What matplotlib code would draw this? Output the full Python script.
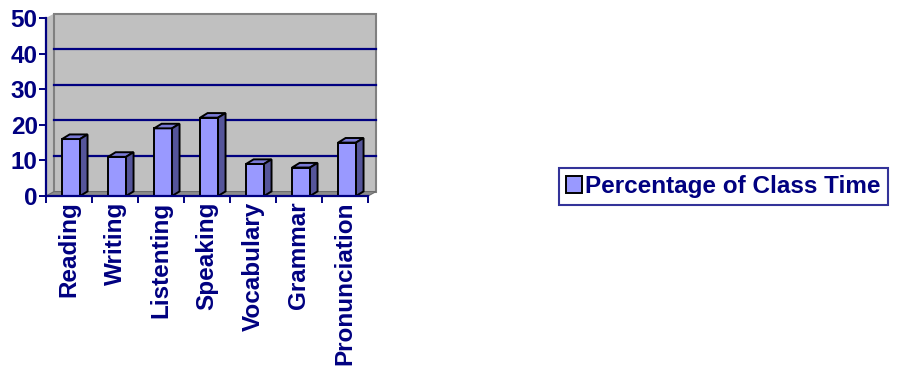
import numpy as np
import matplotlib
matplotlib.use('Agg')
import matplotlib.pyplot as plt
from matplotlib.patches import Polygon, Patch

categories = ['Reading', 'Writing', 'Listenting', 'Speaking', 'Vocabulary', 'Grammar', 'Pronunciation']
values = [16, 11, 19, 22, 9, 8, 15]
yticks = [0, 10, 20, 30, 40, 50]
series_name = 'Percentage of Class Time'

navy = '#000080'
front = '#9999FF'
top_c = '#7A7AD6'
side_c = '#55559A'
wall = '#C0C0C0'
floor = '#8C8C8C'

plt.rcParams['font.family'] = ['Liberation Sans', 'DejaVu Sans']
plt.rcParams['font.weight'] = 'bold'

fig = plt.figure(figsize=(8.98, 3.70), dpi=100)
W, H = 898., 370.
ax = fig.add_axes([46/W, (H-196)/H, 322/W, 178/H])
n = len(categories)
ymax = 50
ax.set_xlim(0, n)
ax.set_ylim(0, ymax)
ax.patch.set_alpha(0)

# depth offsets (data units)
dx = 8/46.
dy = 4.4/3.56

# walls and floor
ax.add_patch(Polygon([(0, 0), (0, ymax), (dx, ymax+dy), (n+dx, ymax+dy), (n+dx, dy), (n, 0)],
                     closed=True, facecolor=wall, edgecolor='none', clip_on=False, zorder=0))
ax.add_patch(Polygon([(dx, dy), (dx, ymax+dy), (n+dx, ymax+dy), (n+dx, dy)],
                     closed=True, facecolor='none', edgecolor='#808080', lw=1.5, clip_on=False, zorder=1))
ax.add_patch(Polygon([(0, 0), (n, 0), (n+dx, dy), (dx, dy)],
                     closed=True, facecolor=floor, edgecolor='#6E6E6E', lw=0.8, clip_on=False, zorder=1))
for v in yticks[1:-1]:
    ax.plot([dx, n+dx], [v+dy, v+dy], color=navy, lw=1.6, zorder=1, clip_on=False)

# 3D-looking bars
bw = 0.39
bx = np.arange(n) + 0.35
bdx = 7.5/46.
bdy = 4.6/3.56
ax.bar(bx, values, width=bw, align='edge', color=front, edgecolor='black', lw=1.4, zorder=3)
for x0, v in zip(bx, values):
    ax.add_patch(Polygon([(x0, v), (x0+bw, v), (x0+bw+bdx, v+bdy), (x0+bdx, v+bdy)],
                         closed=True, facecolor=top_c, edgecolor='black', lw=1.4, zorder=3, clip_on=False))
    ax.add_patch(Polygon([(x0+bw, 0), (x0+bw+bdx, bdy), (x0+bw+bdx, v+bdy), (x0+bw, v)],
                         closed=True, facecolor=side_c, edgecolor='black', lw=1.4, zorder=3, clip_on=False))

# axes styling
for s in ['top', 'right']:
    ax.spines[s].set_visible(False)
for s in ['left', 'bottom']:
    ax.spines[s].set_color(navy)
    ax.spines[s].set_linewidth(1.6)
    ax.spines[s].set_zorder(4)

ax.set_yticks(yticks)
ax.set_yticklabels([str(t) for t in yticks])
ax.tick_params(axis='y', colors=navy, labelsize=17.5, length=5, width=1.4, pad=1)
ax.set_xticks(np.arange(n+1))
ax.set_xticklabels([])
ax.set_xticks(np.arange(n)+0.5, minor=True)
ax.set_xticklabels(categories, minor=True, rotation=90, va='top', ha='center')
ax.tick_params(axis='x', which='major', colors=navy, length=5, width=1.4)
ax.tick_params(axis='x', which='minor', colors=navy, labelsize=17.5, length=0, pad=4)
for lab in ax.get_xticklabels(minor=True) + ax.get_yticklabels():
    lab.set_fontweight('bold')
    lab.set_color(navy)

handle = Patch(facecolor=front, edgecolor='black', lw=1.4)
leg = fig.legend([handle], [series_name], loc='center', bbox_to_anchor=(723.5/W, (H-186.5)/H),
                 frameon=True, fancybox=False, fontsize=17.5, handlelength=0.65, handleheight=0.65,
                 handletextpad=0.15, borderpad=0.3, borderaxespad=0)
leg.get_frame().set_edgecolor(navy)
leg.get_frame().set_linewidth(1.5)
for t in leg.get_texts():
    t.set_color(navy)
    t.set_fontweight('bold')

fig.savefig('out.png', dpi=100)
